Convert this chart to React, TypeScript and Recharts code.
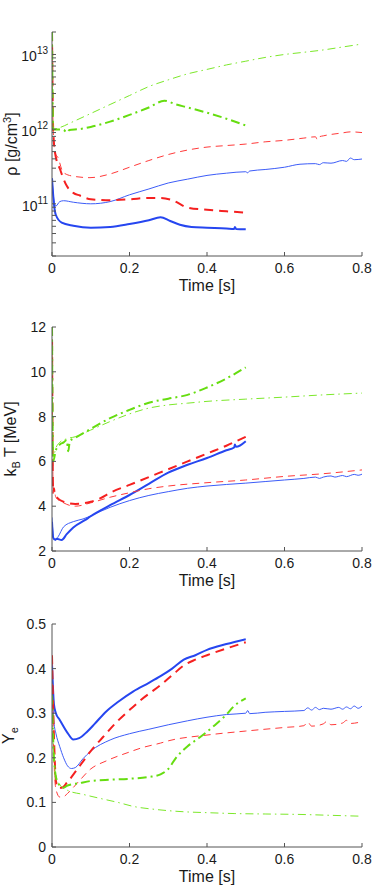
import { Line, LineChart, XAxis, YAxis } from "recharts";

type Pt = [number, number];

const TIME_TICKS = [0, 0.2, 0.4, 0.6, 0.8];
const RHO_TICKS = [
  2e10, 3e10, 4e10, 5e10, 6e10, 7e10, 8e10, 9e10,
  1e11, 2e11, 3e11, 4e11, 5e11, 6e11, 7e11, 8e11, 9e11,
  1e12, 2e12, 3e12, 4e12, 5e12, 6e12, 7e12, 8e12, 9e12,
  1e13, 2e13,
];
const RHO_DECADES = [1e11, 1e12, 1e13];
const TEMP_TICKS = [2, 4, 6, 8, 10, 12];
const YE_TICKS = [0, 0.1, 0.2, 0.3, 0.4, 0.5];

// (a) density [g/cm^3]
const rhoBlueThin: Pt[] = [
  [0, 2.2e11], [0.005, 1.12e11], [0.01, 9.33e10], [0.02, 1.07e11], [0.03, 1.1e11],
  [0.055, 1.05e11], [0.1, 1e11], [0.15, 1.07e11], [0.2, 1.32e11], [0.25, 1.58e11],
  [0.3, 1.9e11], [0.35, 2.14e11], [0.4, 2.4e11], [0.45, 2.57e11], [0.5, 2.69e11],
  [0.505, 2.6e11], [0.51, 2.75e11], [0.55, 2.88e11], [0.6, 3.09e11], [0.64, 3.39e11],
  [0.68, 3.45e11], [0.69, 3.35e11], [0.7, 3.55e11], [0.72, 3.5e11], [0.75, 3.8e11],
  [0.76, 3.7e11], [0.77, 4.1e11], [0.78, 3.9e11], [0.8, 3.98e11],
];
const rhoBlueThick: Pt[] = [
  [0, 2.2e11], [0.005, 1e11], [0.01, 7.08e10], [0.025, 5.6e10], [0.055, 5.1e10],
  [0.1, 4.79e10], [0.15, 4.9e10], [0.2, 5.37e10], [0.25, 6.03e10], [0.28, 6.61e10],
  [0.305, 5.89e10], [0.33, 5.25e10], [0.36, 4.9e10], [0.4, 4.79e10], [0.45, 4.68e10],
  [0.47, 4.6e10], [0.472, 4.9e10], [0.475, 4.6e10], [0.5, 4.57e10],
];
const rhoRedThin: Pt[] = [
  [0, 2e13], [0.003, 1e12], [0.008, 4.79e11], [0.015, 4.2e11], [0.029, 2.63e11],
  [0.055, 2.34e11], [0.098, 2.24e11], [0.15, 2.51e11], [0.2, 3.09e11], [0.25, 3.8e11],
  [0.3, 4.57e11], [0.35, 5.25e11], [0.4, 5.75e11], [0.45, 6.03e11], [0.5, 6.31e11],
  [0.55, 6.76e11], [0.6, 7.08e11], [0.65, 7.59e11], [0.68, 7.9e11], [0.685, 7.2e11],
  [0.69, 7.9e11], [0.7, 8.13e11], [0.75, 8.91e11], [0.77, 9.2e11], [0.8, 9.0e11],
];
const rhoRedThick: Pt[] = [
  [0, 2e13], [0.003, 1e12], [0.008, 4.79e11], [0.021, 2.88e11], [0.038, 1.74e11],
  [0.055, 1.4e11], [0.072, 1.29e11], [0.1, 1.15e11], [0.15, 1.12e11], [0.2, 1.15e11],
  [0.25, 1.2e11], [0.28, 1.2e11], [0.31, 1.12e11], [0.35, 8.91e10], [0.4, 8.32e10],
  [0.45, 7.94e10], [0.47, 7.8e10], [0.5, 7.59e10],
];
const rhoGreenThin: Pt[] = [
  [0, 2e13], [0.003, 1e12], [0.02, 1.05e12], [0.05, 1.23e12], [0.1, 1.62e12],
  [0.15, 2.14e12], [0.2, 2.82e12], [0.25, 3.72e12], [0.3, 4.57e12], [0.35, 5.5e12],
  [0.4, 6.31e12], [0.45, 7.24e12], [0.5, 8.13e12], [0.55, 9.12e12], [0.6, 1e13],
  [0.65, 1.07e13], [0.7, 1.15e13], [0.75, 1.26e13], [0.8, 1.38e13],
];
const rhoGreenThick: Pt[] = [
  [0, 2e13], [0.003, 1e12], [0.03, 9.77e11], [0.038, 9.0e11], [0.045, 9.77e11],
  [0.07, 1e12], [0.1, 1.07e12], [0.15, 1.26e12], [0.2, 1.55e12], [0.25, 1.95e12],
  [0.29, 2.4e12], [0.32, 2.14e12], [0.35, 1.95e12], [0.4, 1.66e12], [0.45, 1.38e12],
  [0.5, 1.12e12],
];

// (b) temperature [MeV]
const tempBlueThin: Pt[] = [
  [0, 3.5], [0.004, 2.6], [0.01, 2.5], [0.016, 2.64], [0.03, 3.08], [0.055, 3.31],
  [0.08, 3.43], [0.124, 3.76], [0.15, 3.95], [0.2, 4.25], [0.25, 4.48], [0.3, 4.65],
  [0.35, 4.8], [0.4, 4.9], [0.45, 4.97], [0.5, 5.03], [0.55, 5.1], [0.6, 5.17],
  [0.65, 5.24], [0.68, 5.3], [0.69, 5.24], [0.7, 5.3], [0.72, 5.35], [0.73, 5.3],
  [0.75, 5.37], [0.76, 5.32], [0.78, 5.42], [0.79, 5.38], [0.8, 5.43],
];
const tempBlueThick: Pt[] = [
  [0, 3.3], [0.003, 2.6], [0.008, 2.5], [0.012, 2.55], [0.025, 2.49], [0.038, 2.75],
  [0.055, 3.05], [0.086, 3.39], [0.1, 3.55], [0.15, 4.05], [0.2, 4.5], [0.25, 5.0],
  [0.3, 5.5], [0.35, 5.85], [0.4, 6.15], [0.45, 6.5], [0.47, 6.62], [0.472, 6.75],
  [0.475, 6.65], [0.5, 6.9],
];
const tempRedThin: Pt[] = [
  [0, 12], [0.003, 4.8], [0.006, 4.7], [0.01, 4.4], [0.03, 4.15], [0.06, 4.0],
  [0.1, 4.15], [0.15, 4.4], [0.2, 4.6], [0.25, 4.78], [0.3, 4.9], [0.4, 5.05],
  [0.5, 5.17], [0.6, 5.33], [0.7, 5.45], [0.8, 5.62],
];
const tempRedThick: Pt[] = [
  [0, 12], [0.003, 4.6], [0.005, 4.8], [0.007, 4.55], [0.015, 4.35], [0.03, 4.2],
  [0.06, 4.1], [0.1, 4.2], [0.124, 4.35], [0.15, 4.6], [0.2, 4.95], [0.25, 5.3],
  [0.3, 5.65], [0.35, 6.0], [0.4, 6.35], [0.45, 6.7], [0.5, 7.1],
];
const tempGreenThin: Pt[] = [
  [0, 12], [0.003, 6.2], [0.01, 6.6], [0.02, 6.85], [0.04, 7.02], [0.06, 7.1],
  [0.1, 7.4], [0.15, 7.78], [0.2, 8.12], [0.25, 8.38], [0.3, 8.52], [0.35, 8.6],
  [0.4, 8.68], [0.5, 8.78], [0.6, 8.87], [0.7, 8.97], [0.8, 9.05],
];
const tempGreenThick: Pt[] = [
  [0, 12], [0.003, 6.0], [0.01, 6.5], [0.02, 6.75], [0.03, 6.85], [0.038, 6.95],
  [0.042, 6.45], [0.046, 6.9], [0.06, 7.05], [0.1, 7.45], [0.15, 7.93], [0.2, 8.3],
  [0.25, 8.62], [0.3, 8.8], [0.35, 8.97], [0.4, 9.3], [0.45, 9.7], [0.5, 10.2],
];

// (c) electron fraction
const yeBlueThin: Pt[] = [
  [0, 0.38], [0.005, 0.28], [0.01, 0.255], [0.02, 0.225], [0.03, 0.2], [0.04, 0.182],
  [0.05, 0.176], [0.06, 0.178], [0.08, 0.198], [0.1, 0.215], [0.15, 0.24], [0.2, 0.254],
  [0.25, 0.264], [0.3, 0.274], [0.35, 0.283], [0.4, 0.291], [0.45, 0.297], [0.5, 0.3],
  [0.505, 0.306], [0.51, 0.299], [0.55, 0.302], [0.6, 0.304], [0.65, 0.306],
  [0.66, 0.312], [0.67, 0.307], [0.68, 0.313], [0.69, 0.308], [0.7, 0.311],
  [0.72, 0.309], [0.74, 0.313], [0.75, 0.309], [0.76, 0.314], [0.77, 0.31],
  [0.78, 0.316], [0.79, 0.311], [0.8, 0.316],
];
const yeBlueThick: Pt[] = [
  [0, 0.41], [0.005, 0.32], [0.01, 0.3], [0.02, 0.285], [0.04, 0.256], [0.055, 0.241],
  [0.07, 0.244], [0.09, 0.258], [0.11, 0.276], [0.14, 0.304], [0.17, 0.325],
  [0.21, 0.349], [0.25, 0.368], [0.28, 0.383], [0.31, 0.4], [0.34, 0.42], [0.37, 0.43],
  [0.4, 0.442], [0.45, 0.455], [0.5, 0.466],
];
const yeRedThin: Pt[] = [
  [0, 0.42], [0.005, 0.2], [0.01, 0.13], [0.02, 0.112], [0.03, 0.113], [0.04, 0.12],
  [0.07, 0.148], [0.1, 0.175], [0.14, 0.193], [0.2, 0.213], [0.23, 0.222],
  [0.28, 0.233], [0.3, 0.238], [0.4, 0.251], [0.5, 0.26], [0.6, 0.268], [0.65, 0.272],
  [0.66, 0.28], [0.67, 0.271], [0.7, 0.276], [0.71, 0.282], [0.72, 0.274],
  [0.75, 0.278], [0.76, 0.284], [0.77, 0.277], [0.8, 0.281],
];
const yeRedThick: Pt[] = [
  [0, 0.43], [0.005, 0.25], [0.01, 0.15], [0.015, 0.133], [0.025, 0.133], [0.04, 0.146],
  [0.07, 0.18], [0.1, 0.215], [0.13, 0.245], [0.17, 0.283], [0.2, 0.307], [0.23, 0.33],
  [0.28, 0.363], [0.31, 0.385], [0.34, 0.407], [0.37, 0.42], [0.4, 0.43],
  [0.45, 0.445], [0.5, 0.459],
];
const yeGreenThin: Pt[] = [
  [0, 0.3], [0.005, 0.2], [0.013, 0.15], [0.02, 0.14], [0.04, 0.127], [0.08, 0.118],
  [0.124, 0.109], [0.17, 0.1], [0.21, 0.091], [0.27, 0.084], [0.34, 0.079],
  [0.4, 0.077], [0.47, 0.075], [0.55, 0.074], [0.64, 0.073], [0.72, 0.071], [0.8, 0.069],
];
const yeGreenThick: Pt[] = [
  [0, 0.34], [0.005, 0.2], [0.012, 0.15], [0.02, 0.138], [0.03, 0.133], [0.04, 0.138],
  [0.07, 0.143], [0.1, 0.148], [0.15, 0.151], [0.2, 0.153], [0.25, 0.157],
  [0.28, 0.163], [0.3, 0.175], [0.32, 0.2], [0.35, 0.226], [0.38, 0.245],
  [0.42, 0.273], [0.45, 0.297], [0.47, 0.316], [0.5, 0.333],
];

// order: blue thin, blue thick, red thin, red thick, green thin, green thick
const STYLES = [
  { color: "#3c5cf8", width: 1, dash: undefined },
  { color: "#2646f0", width: 2, dash: undefined },
  { color: "#ff3a3a", width: 1, dash: "7 5" },
  { color: "#f52020", width: 2, dash: "9 6" },
  { color: "#7ce82a", width: 1, dash: "8 4 1.5 4" },
  { color: "#66dd10", width: 2, dash: "9 4 2 4" },
];

const AXIS = "#555";
const INK = "#1a1a1a";
const FONT = "'Liberation Sans', Arial, Helvetica, sans-serif";

function LogTick(props: any) {
  const { x, y, payload } = props;
  const v = payload.value;
  if (!RHO_DECADES.includes(v)) return <g />;
  const e = Math.round(Math.log10(v));
  return (
    <text x={x} y={y + 7} textAnchor="end" fill={INK} fontSize={14} fontFamily={FONT}>
      <tspan>10</tspan>
      <tspan dy={-7} fontSize={10}>{e}</tspan>
    </text>
  );
}

function Panel(props: {
  title: string;
  top: number;
  bottom: number;
  axisH: number;
  plotH: number;
  labelX: number;
  series: Pt[][];
  yDomain: [number, number];
  yTicks: number[];
  log?: boolean;
  yLabel: React.ReactNode;
}) {
  const { title, top, bottom, axisH, plotH, labelX, series, yDomain, yTicks, log, yLabel } = props;
  const cy = top + plotH / 2;
  return (
    <LineChart
      width={377}
      height={top + plotH + axisH + bottom}
      margin={{ top, right: 15, left: 8, bottom }}
      style={{ fontFamily: FONT }}
    >
      <XAxis
        xAxisId="b"
        type="number"
        dataKey="t"
        domain={[0, 0.8]}
        ticks={TIME_TICKS}
        allowDataOverflow
        height={axisH}
        stroke={AXIS}
        tickSize={-4}
        tickMargin={11}
        tick={{ fill: INK, fontSize: 14 }}
        tickFormatter={(v: number) => String(v)}
        label={{ value: "Time [s]", position: "insideBottom", offset: -1, fill: INK, fontSize: 16 }}
      />
      <XAxis
        xAxisId="t"
        orientation="top"
        type="number"
        dataKey="t"
        domain={[0, 0.8]}
        ticks={TIME_TICKS}
        allowDataOverflow
        height={0}
        stroke={AXIS}
        tickSize={-4}
        tick={false}
        label={{ value: title, position: "top", offset: 11, fill: INK, fontSize: 13 }}
      />
      <YAxis
        yAxisId="l"
        type="number"
        scale={log ? "log" : "auto"}
        domain={yDomain}
        ticks={yTicks}
        allowDataOverflow
        interval={0}
        width={44}
        stroke={AXIS}
        tickSize={-4}
        tickMargin={log ? 8 : 10}
        tick={log ? <LogTick /> : { fill: INK, fontSize: 14 }}
        label={() => (
          <text
            transform={`translate(${labelX}, ${cy}) rotate(-90)`}
            textAnchor="middle"
            fill={INK}
            fontSize={16}
            fontFamily={FONT}
          >
            {yLabel}
          </text>
        )}
      />
      <YAxis
        yAxisId="r"
        orientation="right"
        type="number"
        scale={log ? "log" : "auto"}
        domain={yDomain}
        ticks={yTicks}
        allowDataOverflow
        interval={0}
        width={0}
        stroke={AXIS}
        tickSize={-4}
        tick={false}
      />
      {series.map((s, i) => (
        <Line
          key={i}
          xAxisId="b"
          yAxisId="l"
          data={s.map(([t, v]) => ({ t, v }))}
          dataKey="v"
          type="monotone"
          stroke={STYLES[i].color}
          strokeWidth={STYLES[i].width}
          strokeDasharray={STYLES[i].dash}
          dot={false}
          activeDot={false}
          isAnimationActive={false}
        />
      ))}
    </LineChart>
  );
}

export default function App() {
  return (
    <div style={{ position: "absolute", left: 0, top: 0, width: 377, height: 888 }}>
      <Panel
        title="(a)"
        top={32}
        plotH={224}
        axisH={34}
        bottom={6}
        labelX={17}
        log
        yDomain={[2e10, 2e13]}
        yTicks={RHO_TICKS}
        series={[rhoBlueThin, rhoBlueThick, rhoRedThin, rhoRedThick, rhoGreenThin, rhoGreenThick]}
        yLabel={
          <>
            <tspan>ρ [g/cm</tspan>
            <tspan dy={-6} fontSize={11}>3</tspan>
            <tspan dy={6}>]</tspan>
          </>
        }
      />
      <Panel
        title="(b)"
        top={31}
        plotH={224}
        axisH={34}
        bottom={7}
        labelX={16}
        yDomain={[2, 12]}
        yTicks={TEMP_TICKS}
        series={[tempBlueThin, tempBlueThick, tempRedThin, tempRedThick, tempGreenThin, tempGreenThick]}
        yLabel={
          <>
            <tspan>k</tspan>
            <tspan dy={4} fontSize={11}>B</tspan>
            <tspan dy={-4}> T [MeV]</tspan>
          </>
        }
      />
      <Panel
        title="(c)"
        top={32}
        plotH={223}
        axisH={34}
        bottom={7}
        labelX={14}
        yDomain={[0, 0.5]}
        yTicks={YE_TICKS}
        series={[yeBlueThin, yeBlueThick, yeRedThin, yeRedThick, yeGreenThin, yeGreenThick]}
        yLabel={
          <>
            <tspan>Y</tspan>
            <tspan dy={4} fontSize={11}>e</tspan>
          </>
        }
      />
    </div>
  );
}
